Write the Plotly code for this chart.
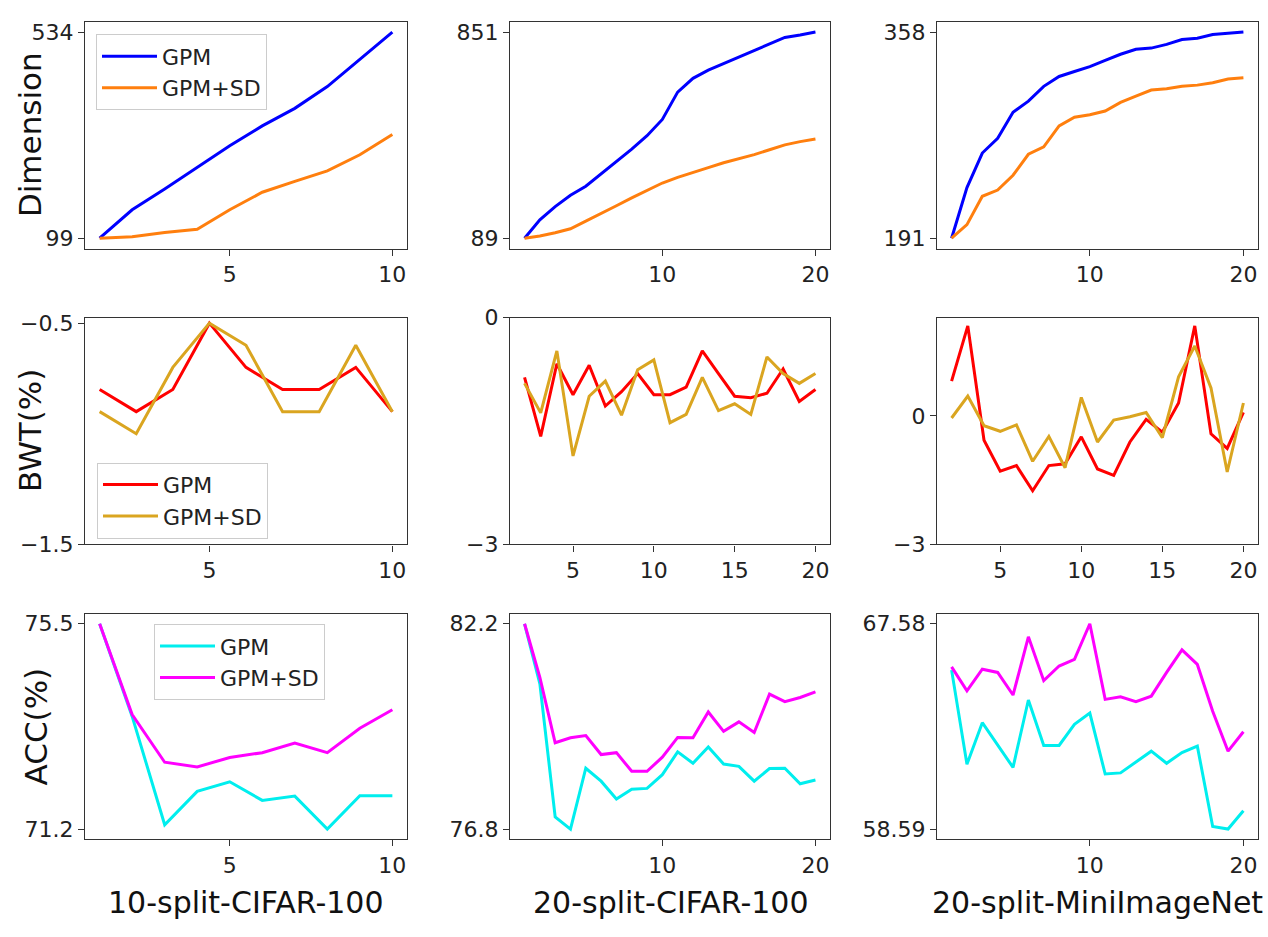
import plotly.graph_objects as go
from plotly.subplots import make_subplots

# ---------------- data ----------------
tasks10 = list(range(1, 11))
tasks20 = list(range(1, 21))
bwt_tasks10 = list(range(2, 11))
bwt_tasks20 = list(range(2, 21))

# Dimension
dim_c10_gpm = [99, 159, 203, 249, 294, 336, 373, 419, 476, 534]
dim_c10_sd = [99, 102, 111, 118, 159, 196, 219, 241, 275, 318]
dim_c20_gpm = [89, 157, 206, 248, 281, 326, 371, 418, 468, 528, 629, 680, 710, 734, 758, 782, 807, 831, 840, 851]
dim_c20_sd = [89, 97, 109, 124, 152, 182, 209, 238, 266, 293, 314, 333, 350, 368, 383, 398, 416, 434, 446, 456]
dim_mi_gpm = [191, 232, 260, 272, 293, 302, 314, 322, 326, 330, 335, 340, 344, 345, 348, 352, 353, 356, 357, 358]
dim_mi_sd = [191, 202, 225, 230, 242, 259, 265, 282, 289, 291, 294, 301, 306, 311, 312, 314, 315, 317, 320, 321]

# BWT (%)
bwt_c10_gpm = [-0.8, -0.9, -0.8, -0.5, -0.7, -0.8, -0.8, -0.7, -0.9]
bwt_c10_sd = [-0.9, -1.0, -0.7, -0.5, -0.6, -0.9, -0.9, -0.6, -0.9]
bwt_c20_gpm = [-0.79, -1.57, -0.61, -1.02, -0.63, -1.17, -0.98, -0.74, -1.02, -1.02, -0.92, -0.44, -0.74, -1.04, -1.06, -1.00, -0.68, -1.11, -0.95]
bwt_c20_sd = [-0.87, -1.26, -0.44, -1.83, -1.04, -0.84, -1.29, -0.69, -0.56, -1.39, -1.28, -0.79, -1.23, -1.14, -1.28, -0.52, -0.74, -0.87, -0.74]
bwt_mi_gpm = [0.81, 2.10, -0.57, -1.29, -1.16, -1.75, -1.16, -1.12, -0.49, -1.24, -1.39, -0.61, -0.08, -0.38, 0.30, 2.10, -0.42, -0.76, 0.08]
bwt_mi_sd = [-0.05, 0.46, -0.23, -0.36, -0.21, -1.06, -0.48, -1.21, 0.43, -0.61, -0.10, -0.02, 0.08, -0.51, 0.91, 1.63, 0.65, -1.31, 0.30]

# ACC (%)
acc_c10_gpm = [75.5, 73.56, 71.29, 71.99, 72.19, 71.80, 71.89, 71.20, 71.90, 71.90]
acc_c10_sd = [75.5, 73.60, 72.60, 72.50, 72.70, 72.80, 73.00, 72.80, 73.31, 73.70]
acc_c20_gpm = [82.2, 80.62, 77.12, 76.8, 78.40, 78.06, 77.59, 77.85, 77.87, 78.23, 78.83, 78.53, 78.96, 78.51, 78.45, 78.06, 78.39, 78.40, 77.99, 78.09]
acc_c20_sd = [82.2, 80.79, 79.07, 79.20, 79.26, 78.76, 78.81, 78.32, 78.32, 78.69, 79.21, 79.20, 79.88, 79.37, 79.62, 79.34, 80.35, 80.15, 80.26, 80.41]
acc_mi_gpm = [65.55, 61.43, 63.25, 62.25, 61.29, 64.24, 62.25, 62.25, 63.18, 63.67, 61.00, 61.05, 61.54, 62.00, 61.47, 61.94, 62.22, 58.70, 58.59, 59.39]
acc_mi_sd = [65.69, 64.64, 65.59, 65.45, 64.46, 67.01, 65.09, 65.73, 66.02, 67.58, 64.27, 64.38, 64.17, 64.41, 65.45, 66.44, 65.80, 63.75, 62.00, 62.85]

series_names = ["GPM", "GPM+SD"]
column_titles = ["10-split-CIFAR-100", "20-split-CIFAR-100", "20-split-MiniImageNet"]
row_titles = ["Dimension", "BWT(%)", "ACC(%)"]

dim_yticks = [[99, 534], [89, 851], [191, 358]]
bwt_yticks = [[-0.5, -1.5], [0, -3], [0, -3]]
bwt_yticktext = [["\u22120.5", "\u22121.5"], ["0", "\u22123"], ["0", "\u22123"]]
acc_yticks = [[75.5, 71.2], [82.2, 76.8], [67.58, 58.59]]
acc_yticktext = [["75.5", "71.2"], ["82.2", "76.8"], ["67.58", "58.59"]]

# ---------------- styling ----------------
FONT = "DejaVu Sans"
W, H = 1268, 937
col_px = [(85, 407), (510, 830), (937, 1258)]
row_px = [(10, 243), (314, 547), (618, 850)]

row_colors = [("#0000ff", "#ff7f0e"), ("#ff0000", "#daa520"), ("#00eeee", "#ff00ff")]


def pad(lo, hi, f=0.05):
    d = hi - lo
    return [lo - f * d, hi + f * d]


fig = make_subplots(rows=3, cols=3)

panels = [
    [(tasks10, dim_c10_gpm, dim_c10_sd), (tasks20, dim_c20_gpm, dim_c20_sd), (tasks20, dim_mi_gpm, dim_mi_sd)],
    [(bwt_tasks10, bwt_c10_gpm, bwt_c10_sd), (bwt_tasks20, bwt_c20_gpm, bwt_c20_sd), (bwt_tasks20, bwt_mi_gpm, bwt_mi_sd)],
    [(tasks10, acc_c10_gpm, acc_c10_sd), (tasks20, acc_c20_gpm, acc_c20_sd), (tasks20, acc_mi_gpm, acc_mi_sd)],
]

legend_ids = ["legend", "legend2", "legend3"]

for r in range(3):
    for c in range(3):
        xs, a, b = panels[r][c]
        for k, ys in enumerate([a, b]):
            fig.add_trace(
                go.Scatter(
                    x=xs, y=ys, mode="lines", name=series_names[k],
                    line=dict(color=row_colors[r][k], width=3),
                    showlegend=(c == 0),
                    legend=legend_ids[r],
                ),
                row=r + 1, col=c + 1,
            )

axis_style = dict(
    showgrid=False, zeroline=False, showline=True, mirror=True,
    linecolor="#333333", linewidth=1.3, ticks="outside", ticklen=6,
    tickwidth=1.3, tickcolor="#333333",
    tickfont=dict(family=FONT, size=22, color="#222222"),
)

for r in range(3):
    for c in range(3):
        idx = r * 3 + c + 1
        xa = "xaxis" if idx == 1 else f"xaxis{idx}"
        ya = "yaxis" if idx == 1 else f"yaxis{idx}"
        xs, a, b = panels[r][c]
        x0, x1 = col_px[c]
        t, btm = row_px[r]
        xr = pad(min(xs), max(xs))
        if r == 1 and c > 0:
            xt = [5, 10, 15, 20]
        elif c == 0:
            xt = [5, 10]
        else:
            xt = [10, 20]
        fig.layout[xa].update(domain=[x0 / W, x1 / W], range=xr, tickvals=xt, **axis_style)
        allv = a + b
        if r == 0:
            yr = pad(min(allv), max(allv))
            yt, ytt = dim_yticks[c], [str(v) for v in dim_yticks[c]]
        elif r == 1:
            lo, hi = min(allv), max(allv)
            if c == 1:
                yr = [-3, 0]
            elif c == 0:
                yr = [-1.5, hi + 0.05 * (hi - lo)]
            else:
                yr = [-3, hi + 0.05 * (hi - lo)]
            yt, ytt = bwt_yticks[c], bwt_yticktext[c]
        else:
            yr = pad(min(allv), max(allv))
            yt, ytt = acc_yticks[c], acc_yticktext[c]
        fig.layout[ya].update(domain=[1 - btm / H, 1 - t / H], range=yr,
                              tickvals=yt, ticktext=ytt, **axis_style)

legend_style = dict(
    bgcolor="rgba(255,255,255,0.85)", bordercolor="#cccccc", borderwidth=1,
    font=dict(family=FONT, size=22, color="#222222"),
    xanchor="left", yanchor="top", tracegroupgap=0, itemwidth=55,
)
fig.update_layout(
    legend=dict(x=96 / W, y=1 - 23 / H, **legend_style),
    legend2=dict(x=97 / W, y=1 - 463 / H, **legend_style),
    legend3=dict(x=154 / W, y=1 - 629 / H, **legend_style),
)

annotations = []
ytitle_x = [30, 30, 36]
for r in range(3):
    t, btm = row_px[r]
    annotations.append(dict(
        text=row_titles[r], x=ytitle_x[r] / W, y=1 - (t + btm) / 2 / H,
        xref="paper", yref="paper", xanchor="center", yanchor="middle",
        textangle=-90, showarrow=False,
        font=dict(family=FONT, size=31, color="#111111"),
    ))
for c in range(3):
    x0, x1 = col_px[c]
    annotations.append(dict(
        text=column_titles[c], x=(x0 + x1) / 2 / W, y=1 - 915 / H,
        xref="paper", yref="paper", xanchor="center", yanchor="middle",
        showarrow=False,
        font=dict(family=FONT, size=30, color="#111111"),
    ))

fig.update_layout(
    annotations=annotations,
    width=W, height=H,
    margin=dict(l=0, r=0, t=0, b=0),
    paper_bgcolor="white", plot_bgcolor="white",
    font=dict(family=FONT),
)

fig.write_html(
    "out.html",
    config={"displayModeBar": False},
    post_script="document.body.style.margin='0';document.body.style.overflow='hidden';",
)
